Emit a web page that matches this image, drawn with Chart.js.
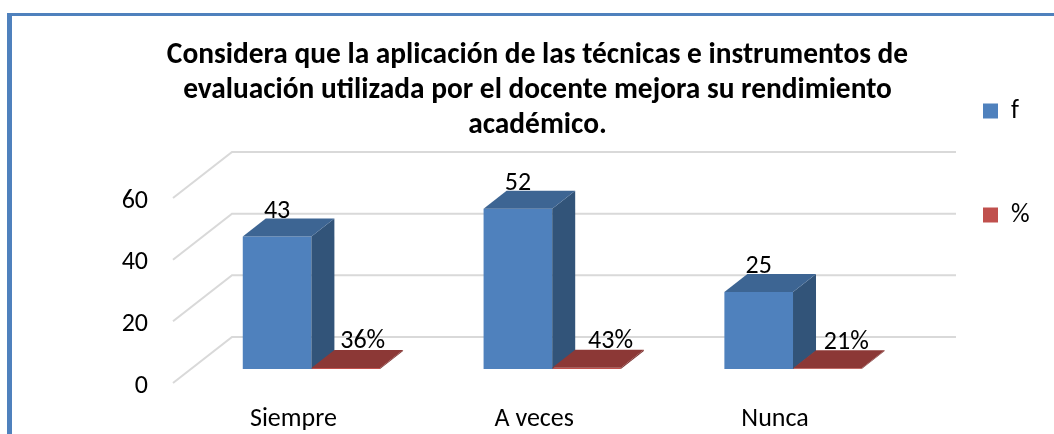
<!DOCTYPE html>
<html><head><meta charset="utf-8">
<style>html,body{margin:0;padding:0;background:#fff}#w{width:1054px;height:434px;position:relative}canvas{display:block}</style>
<script src="https://cdn.jsdelivr.net/npm/chart.js@4/dist/chart.umd.min.js"></script>
</head><body><div id="w"><canvas id="c" width="1054" height="434"></canvas></div>
<script>
const titleLines = ["Considera que la aplicación de las técnicas e instrumentos de","evaluación utilizada por el docente mejora su rendimiento","académico."];
const categories = ["Siempre","A veces","Nunca"];
const seriesF = [43,52,25];
const seriesPct = [0.36,0.43,0.21];
const yTicks = [0,20,40,60];
const FONT = 'Carlito, Lato, "Open Sans", sans-serif';
const depth = {x:23,y:18};
const faces = [{side:'#325479',top:'#3d6593'},{side:'#7a2f2d',top:'#8c3836'}];
const labelShift = [[0,0,0],[17,24,19]];
const plugin3d = {
  id:'plugin3d',
  afterLayout(chart){
    const t=chart.titleBlock; t.left=0; t.right=1075;
    const l=chart.legend; l.left=905; l.right=1054; l.top=20; l.bottom=434;
  },
  beforeDraw(chart){
    const c=chart.ctx;
    c.save();
    c.fillStyle='#fff'; c.fillRect(0,0,1054,434);
    c.fillStyle='#4f81bd';
    c.fillRect(7,13,1047,3); c.fillRect(7,13,5,421);
    c.restore();
  },
  beforeDatasetsDraw(chart){
    const c=chart.ctx, y=chart.scales.y;
    c.save(); c.strokeStyle='#d9d9d9'; c.lineWidth=2;
    y.ticks.forEach(t=>{
      const p=y.getPixelForValue(t.value);
      c.beginPath(); c.moveTo(173,p+14); c.lineTo(232,p-32); c.lineTo(956,p-32); c.stroke();
    });
    c.restore();
  },
  afterDatasetsDraw(chart){
    const c=chart.ctx;
    c.save();
    chart.data.datasets.forEach((d,i)=>{
      chart.getDatasetMeta(i).data.forEach((b,j)=>{
        const l=b.x-b.width/2,r=b.x+b.width/2,t=b.y,bt=b.base;
        c.fillStyle=faces[i].side;
        c.beginPath();c.moveTo(r,t);c.lineTo(r+depth.x,t-depth.y);c.lineTo(r+depth.x,bt-depth.y);c.lineTo(r,bt);c.closePath();c.fill();
        c.fillStyle=faces[i].top;
        c.beginPath();c.moveTo(l,t);c.lineTo(l+depth.x,t-depth.y);c.lineTo(r+depth.x,t-depth.y);c.lineTo(r,t);c.closePath();c.fill();
        c.fillStyle='#000';c.font='26px '+FONT;c.textAlign='center';c.textBaseline='middle';
        const txt=i===1?Math.round(d.data[j]*100)+'%':String(d.data[j]);
        c.fillText(txt,b.x+labelShift[i][j],t-(i===1?26:25));
      });
    });
    c.restore();
  }
};
new Chart(document.getElementById('c'),{
  type:'bar',
  data:{labels:categories,datasets:[
    {label:'f',data:seriesF,backgroundColor:'#4f81bd',categoryPercentage:0.57,barPercentage:1},
    {label:'%',data:seriesPct,backgroundColor:'#c0504d',categoryPercentage:0.57,barPercentage:1}
  ]},
  options:{
    responsive:false,animation:false,
    layout:{padding:{left:0,top:0,bottom:0,right:6}},
    plugins:{
      tooltip:{enabled:false},
      title:{display:true,text:titleLines,color:'#000',font:{family:FONT,size:29.4,weight:'bold',lineHeight:35/29.4},padding:{top:38,bottom:41}},
      legend:{display:true,position:'right',align:'start',labels:{boxWidth:15,boxHeight:15,padding:78,color:'#000',font:{family:FONT,size:26}}}
    },
    scales:{
      x:{grid:{display:false},border:{display:false},
        afterFit(s){s.height=65;},
        ticks:{color:'#000',padding:27,labelOffset:-18,maxRotation:0,font:{family:FONT,size:26}}},
      y:{min:0,max:60,grid:{display:false},border:{display:false},
        afterBuildTicks(s){s.ticks=yTicks.map(v=>({value:v}));},
        afterFit(s){s.width=191;},
        ticks:{color:'#000',padding:35,labelOffset:17,font:{family:FONT,size:26}}}
    }
  },
  plugins:[plugin3d]
});
</script></body></html>
